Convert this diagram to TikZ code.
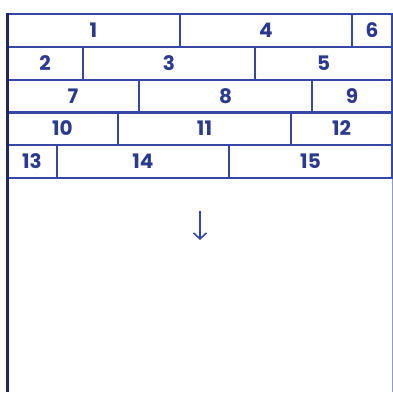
\documentclass[tikz,border=0pt]{standalone}
\usepackage{fontspec}
\setmainfont{Poppins}
\usepackage{xcolor}
\usetikzlibrary{arrows.meta}
\definecolor{brickblue}{HTML}{3447A8}
\definecolor{labelblue}{HTML}{2B3A8F}
\definecolor{framedark}{HTML}{1E2866}
\definecolor{framelight}{HTML}{8C9BD6}

\begin{document}
\begin{tikzpicture}[x=1pt,y=-1pt,
  cell/.style={draw=brickblue,line width=1.4pt,rectangle,inner sep=0pt,
    minimum height=33pt,text=labelblue,
    font=\fontsize{20}{22}\selectfont\bfseries}]
\useasboundingbox (0,0) rectangle (393,392);
\fill[white] (0,0) rectangle (393,392);
% frame
\coordinate (tl) at (7,13);
\coordinate (bl) at (7,392);
\coordinate (tr) at (392,13);
\coordinate (br) at (392,392);
\draw[framelight,line width=1pt] (tr) -- (br);
% bricks: label / left / right / top
\foreach \lab/\xa/\xb/\ya in {1/7/180/14, 4/180/352/14, 6/352/392/14,
    2/7/83/47, 3/83/255/47, 5/255/392/47,
    7/7/139/80, 8/139/312/80, 9/312/392/80,
    10/7/118/112, 11/118/291/112, 12/291/392/112,
    13/7/57/145, 14/57/229/145, 15/229/392/145}{
  \node[cell,minimum width={(\xb-\xa)*1pt}] (c\lab) at ({(\xa+\xb)/2},\ya+16.5) {\lab};
}
\draw[framedark,line width=3pt] (tl) -- (bl);
% arrow
\coordinate (arrtop) at (200,211);
\coordinate (arrend) at (200,240);
\draw[brickblue,line width=1.6pt,-{Straight Barb[length=6pt,width=13pt]}] (arrtop) -- (arrend);
\end{tikzpicture}
\end{document}
